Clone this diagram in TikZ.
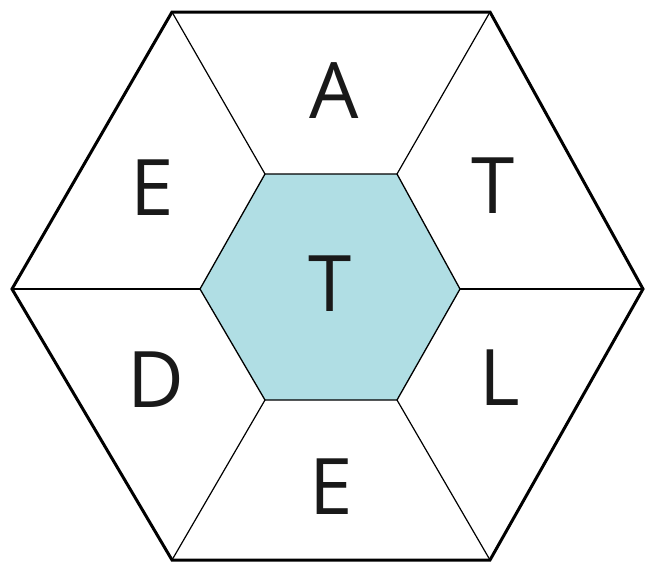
\documentclass[tikz,border=0pt]{standalone}
\usepackage{fontspec}
\setmainfont{Open Sans}
\definecolor{cellblue}{HTML}{B0DEE4}
\begin{document}
\begin{tikzpicture}[x=1pt,y=-1pt,
  outer/.style={line width=3pt,line join=miter},
  inner/.style={line width=1.3pt},
  spoke/.style={line width=1.2pt},
  letter/.style={font=\fontsize{78}{78}\selectfont,text=black!90,inner sep=0pt,anchor=center}]
\useasboundingbox (0,0) rectangle (645,563);
\coordinate (o1) at (172,12);
\coordinate (o2) at (490,12);
\coordinate (o3) at (643,289);
\coordinate (o4) at (490,560);
\coordinate (o5) at (172,560);
\coordinate (o6) at (12,289);
\coordinate (i1) at (265,174);
\coordinate (i2) at (397,174);
\coordinate (i3) at (460,289);
\coordinate (i4) at (397,400);
\coordinate (i5) at (265,400);
\coordinate (i6) at (200,289);
\fill[cellblue] (i1)--(i2)--(i3)--(i4)--(i5)--(i6)--cycle;
\draw[inner] (i1)--(i2)--(i3)--(i4)--(i5)--(i6)--cycle;
\foreach \k in {1,...,6} \draw[spoke] (o\k)--(i\k);
\draw[outer] (o1)--(o2)--(o3)--(o4)--(o5)--(o6)--cycle;
\node[letter] (a) at (334,91) {A};
\node[letter] (t1) at (493,186) {T};
\node[letter] (l) at (500,378) {L};
\node[letter] (e1) at (331,487) {E};
\node[letter] (d) at (156,380) {D};
\node[letter] (e2) at (152,188) {E};
\node[letter] (t0) at (330,284) {T};
\end{tikzpicture}
\end{document}
